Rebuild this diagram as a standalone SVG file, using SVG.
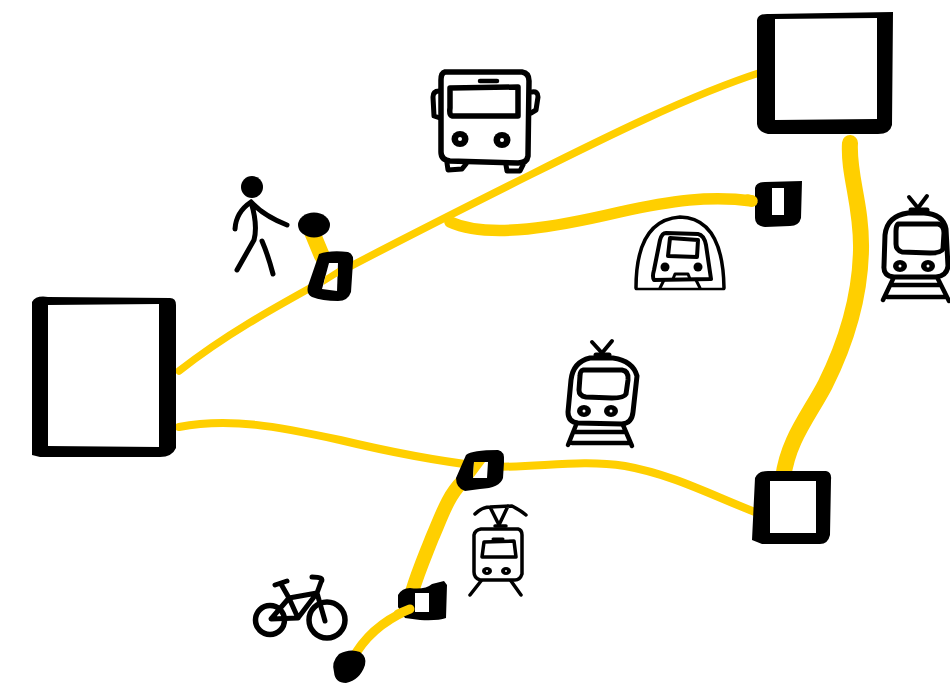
<svg xmlns="http://www.w3.org/2000/svg" width="950" height="683" viewBox="0 0 950 683">
<style>
.c{fill:none;stroke:#ffcf00;stroke-linecap:round;stroke-linejoin:round}
.y{fill:#ffcf00}
.k{fill:none;stroke:#000;stroke-linecap:round;stroke-linejoin:round}
.w{fill:#fff}
.f{fill:#000}
</style>
<rect width="950" height="683" fill="#fff"/>
<g id="connectors">
<path class="c" stroke-width="7.500" d="M179 371C225 335 270 310 330 277C410 235 470 205 530 175C600 140 690 95 762 72"/>
<path class="c" stroke-width="11.500" d="M450 222C490 240 560 226 620 212C670 201 710 195 752 201"/>
<path class="c" stroke-width="16" d="M850 143C848 175 862 205 861 250C860 300 845 345 825 385C808 417 788 440 783 478"/>
<path class="c" stroke-width="8" d="M179 427C230 417 280 427 340 440C390 452 430 460 480 466C530 470 575 458 625 466C675 475 715 497 760 514"/>
<path class="c" stroke-width="14" d="M462 482C448 496 442 515 432 538C425 556 418 572 412 592"/>
<path class="c" stroke-width="9" d="M408 610C385 620 365 635 352 660"/>
<path class="c" stroke-width="16" d="M312 232L322 256"/>
</g>
<g id="node-left"><path class="f" d="M32 302Q36 295 48 297L170 298Q176 298 176 305L176 448Q172 457 160 457L40 457L32 455Z"/><path class="w" d="M48 305L159 304L159 447L48 446Z"/></g>
<g id="node-top-right"><path class="f" d="M757 20Q758 13 770 14L893 12L892 125Q890 134 878 134L768 134Q758 132 757 124Z"/><path class="w" d="M775 19L877 18L877 119L775 120Z"/></g>
<g id="node-bottom-right"><path class="f" d="M755 478Q758 471 768 471L826 471Q832 472 831 480L830 535Q828 544 820 544L762 544L752 540Z"/><path class="w" d="M770 481L816 481L816 533L770 533Z"/></g>
<g id="node-stop-walk"><path class="f" d="M319 254Q330 250 348 252Q354 254 353 262L351 292Q348 301 338 301Q322 301 312 297Q306 294 308 286Z"/><path class="w" d="M329 263L338 263L337 291L322 289Z"/><path class="y" d="M325.500 276L338 268L338 276L323.500 285Z"/></g>
<g id="node-walk-end"><ellipse class="f" cx="314" cy="225" rx="16" ry="12.500"/></g>
<g id="node-stop-metro"><path class="f" d="M755 188Q756 182 765 182L802 181L801 218Q799 226 790 226L765 227Q755 226 755 218Z"/><path class="w" d="M772 188L784 188L784 215L772 215Z"/><path class="c" stroke-width="11.500" d="M748 200L752 201"/></g>
<g id="node-stop-junction"><path class="f" d="M466 455Q472 450 498 450Q505 451 504 462L503 478Q500 488 480 489L465 491Q456 488 456 478Z"/><path class="w" d="M474 462L488 462L487 478L473 478Z"/><path class="y" d="M474 462L485 462L473 478Z"/></g>
<g id="node-stop-bike"><path class="f" d="M398 595Q402 588 410 588Q425 590 432 584L444 581L447 585L446 618Q438 621 420 620L405 618L398 607Z"/><path class="w" d="M415 593L429 593L429 612L415 612Z"/><path class="c" stroke-width="9" d="M398 614L410 609"/></g>
<g id="node-bike-end"><path class="f" d="M339 654Q350 648 360 652Q367 657 365 665Q360 680 346 683Q335 683 334 672Q331 662 339 654Z"/></g>
<g id="icon-bus"><path class="k" stroke-width="5.500" d="M445 72L522 72Q529 73 529 81L528 156Q527 163 518 163L450 161Q441 160 441 152L441 80Q441 73 445 72Z"/><path class="k" stroke-width="5.500" d="M450 88L518 87L518 116L452 116Q449 115 450 108Z"/><path class="k" stroke-width="4.500" d="M480 81L497 81"/><path class="k" stroke-width="5" d="M439 91Q433 91 433 97L434 116L440 118M532 92Q538 91 538 97L536 110L531 113"/><ellipse class="f" cx="460" cy="139" rx="8.500" ry="8"/><ellipse class="f" cx="502" cy="140" rx="8.500" ry="8"/><circle class="w" cx="460" cy="139" r="2"/><circle class="w" cx="502" cy="140" r="2"/><path class="k" stroke-width="5" d="M447 163L448 170L462 169L466 164M506 165L507 171L520 171L523 165"/></g>
<g id="icon-walker"><circle class="f" cx="252" cy="187" r="11"/><path class="k" stroke-width="5" d="M235 229Q236 212 251 202Q258 225 254 240L237 270M251 202Q264 216 287 225M262 241Q268 255 273 274"/></g>
<g id="icon-metro"><path class="k" stroke-width="2.500" d="M636 289L724 289"/><path class="k" stroke-width="3.500" d="M636 288Q636 220 680 217Q723 218 724 288"/><path class="k" stroke-width="4" d="M666 233L698 234Q704 235 706 245L711 279L654 280Q652 277 654 270L660 240Q662 233 666 233Z"/><path class="k" stroke-width="4" d="M670 238L698 240L697 257L668 256Z"/><circle class="f" cx="665" cy="267" r="4.500"/><circle class="f" cx="698" cy="267" r="4.500"/><path class="k" stroke-width="3" d="M673 279L675 274L688 274L690 279M660 288L664 280M696 280L700 288"/></g>
<g id="icon-train-right"><path class="k" stroke-width="5" d="M908 213L924 213Q943 214 946 229L948 266Q947 276 936 277L894 277Q883 276 884 266L885 235Q887 216 908 213Z"/><path class="k" stroke-width="5" d="M898 224L938 224Q944 225 944 233L943 249Q941 253 930 253L902 252Q896 250 896 244L896 231Q896 226 898 224Z"/><path class="k" stroke-width="4" d="M909 197L918 208L927 196"/><path class="k" stroke-width="5" d="M911 210L927 210"/><ellipse class="f" cx="900" cy="266" rx="7" ry="6"/><ellipse class="f" cx="928" cy="266" rx="7" ry="6"/><circle class="w" cx="900" cy="266" r="1.500"/><circle class="w" cx="928" cy="266" r="1.500"/><path class="k" stroke-width="4.500" d="M893 279L883 300M938 279L949 301M891 285L941 285M887 297L945 297"/></g>
<g id="icon-train-mid"><path class="k" stroke-width="5" d="M590 358L613 358Q633 361 637 376L633 412Q632 423 622 424L578 423Q568 422 568 412L571 380Q573 362 590 358Z"/><path class="k" stroke-width="5" d="M583 370L622 370Q629 371 628 380L626 394Q624 398 612 398L586 397Q579 396 579 390L580 376Q580 371 583 370Z"/><path class="k" stroke-width="4" d="M592 342L602 353L612 341"/><path class="k" stroke-width="5" d="M596 355L609 355"/><ellipse class="f" cx="584" cy="411" rx="7" ry="6"/><ellipse class="f" cx="611" cy="411" rx="7" ry="6"/><circle class="w" cx="584" cy="411" r="1.500"/><circle class="w" cx="611" cy="411" r="1.500"/><path class="k" stroke-width="4.500" d="M576 425L568 445M623 425L632 446M575 432L625 432M572 443L629 443"/></g>
<g id="icon-tram"><path class="k" stroke-width="3.500" d="M475 514Q482 507 490 507L512 506Q520 510 526 515M490 507L499 525L508 506"/><path class="k" stroke-width="3.500" d="M495 526L506 526"/><path class="k" stroke-width="3.500" d="M481 529L518 529Q522 530 522 535L522 574Q520 580 515 580L480 580Q474 578 474 572L474 535Q475 530 481 529Z"/><path class="k" stroke-width="3.500" d="M484 542L514 541L516 557L482 557Z"/><path class="k" stroke-width="3" d="M493 539L503 539"/><ellipse class="f" cx="487" cy="571" rx="5" ry="4"/><ellipse class="f" cx="506" cy="571" rx="5" ry="4"/><circle class="w" cx="487" cy="571" r="1"/><circle class="w" cx="506" cy="571" r="1"/><path class="k" stroke-width="3.500" d="M481 581L470 595M511 581L521 595"/></g>
<g id="icon-bike"><circle class="k" cx="270" cy="620" r="14.500" stroke-width="5.500"/><circle class="k" cx="327" cy="620" r="18" stroke-width="5.500"/><path class="k" stroke-width="5" d="M275 585L287 581M281 584L289 598L317 593L298 618L271 619L289 598L298 618M317 593L325 621M317 593L321 582Q325 577 312 577"/></g>
</svg>
